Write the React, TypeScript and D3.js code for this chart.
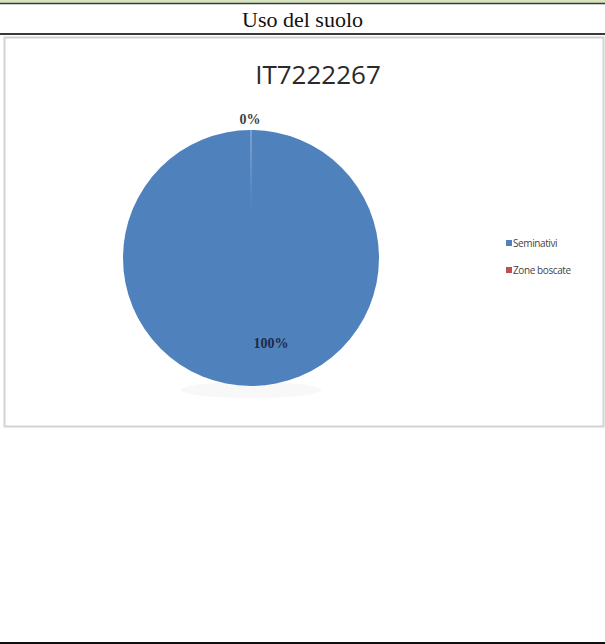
import { useEffect, useRef } from "react";
import * as d3 from "d3";

const categories = ["Seminativi", "Zone boscate"];
const values = [100, 0];
const colors = ["#4f81bd", "#c0504d"];
const labels = ["100%", "0%"];
const chartTitle = "IT7222267";
const sectionTitle = "Uso del suolo";

export default function App() {
    const svgRef = useRef<SVGSVGElement | null>(null);

    useEffect(() => {
        if (!svgRef.current) return;
        const width = 605;
        const svg = d3.select(svgRef.current);
        svg.selectAll("*").remove();

        // page frame
        svg.append("rect").attr("x", 0).attr("y", 0).attr("width", width).attr("height", 3).attr("fill", "#d8e4bf");
        svg.append("line").attr("x1", 0).attr("x2", width).attr("y1", 3.5).attr("y2", 3.5)
            .attr("stroke", "#3a3a3a").attr("stroke-width", 1.5);
        svg.append("text").attr("x", width / 2).attr("y", 27).attr("text-anchor", "middle")
            .attr("font-family", "'Liberation Serif', 'Times New Roman', serif").attr("font-size", 22)
            .attr("fill", "#111").text(sectionTitle);
        svg.append("line").attr("x1", 0).attr("x2", width).attr("y1", 34).attr("y2", 34)
            .attr("stroke", "#3a3a3a").attr("stroke-width", 2);
        svg.append("line").attr("x1", 0).attr("x2", width).attr("y1", 643).attr("y2", 643)
            .attr("stroke", "#111").attr("stroke-width", 2);

        // chart box
        svg.append("rect").attr("x", 4.5).attr("y", 37.5).attr("width", 599).attr("height", 389)
            .attr("fill", "#fff").attr("stroke", "#d2d2d2").attr("stroke-width", 2);

        svg.append("text").attr("x", 318).attr("y", 84).attr("text-anchor", "middle")
            .attr("font-family", "'Open Sans', 'DejaVu Sans', sans-serif").attr("font-size", 26)
            .attr("fill", "#2a2a2a").text(chartTitle);

        const cx = 251, cy = 258, r = 128;
        const pie = d3.pie<number>().sort(null).value(d => d);
        const arcs = pie(values);
        const arc = d3.arc<d3.PieArcDatum<number>>().innerRadius(0).outerRadius(r);
        const g = svg.append("g").attr("transform", `translate(${cx},${cy})`);

        g.append("ellipse").attr("cx", 0).attr("cy", r + 4).attr("rx", r * 0.55).attr("ry", 8)
            .attr("fill", "#f4f4f4").attr("opacity", 0.6);

        g.selectAll("path.slice").data(arcs).join("path")
            .attr("class", "slice")
            .attr("d", arc)
            .attr("fill", (_, i) => colors[i]);

        // slice boundary at top (0% slice), fading toward centre
        const zero = arcs[1];
        const grad = svg.append("defs").append("linearGradient").attr("id", "fade")
            .attr("x1", 0).attr("y1", 0).attr("x2", 0).attr("y2", 1);
        grad.append("stop").attr("offset", "0%").attr("stop-color", "#a9c0dc");
        grad.append("stop").attr("offset", "100%").attr("stop-color", "#4f81bd");
        g.append("rect")
            .attr("x", Math.sin(zero.startAngle) * r - 0.5)
            .attr("y", -Math.cos(zero.startAngle) * r)
            .attr("width", 1).attr("height", r * 0.62)
            .attr("fill", "url(#fade)");

        // data labels
        const labelPos = [
            [20, 90, "#1f2a44"],
            [-1, -134, "#404040"],
        ] as const;
        g.selectAll("text.lbl").data(arcs).join("text")
            .attr("class", "lbl")
            .attr("x", (_, i) => labelPos[i][0])
            .attr("y", (_, i) => labelPos[i][1])
            .attr("text-anchor", "middle")
            .attr("font-family", "'Liberation Serif', 'DejaVu Serif', serif")
            .attr("font-weight", "bold").attr("font-size", 14)
            .attr("fill", (_, i) => labelPos[i][2])
            .text((_, i) => labels[i]);

        // legend
        const legend = svg.append("g").attr("transform", "translate(506,240)");
        const items = legend.selectAll("g").data(categories).join("g")
            .attr("transform", (_, i) => `translate(0,${i * 27})`);
        items.append("rect").attr("x", 0).attr("y", 0).attr("width", 6).attr("height", 6)
            .attr("fill", (_, i) => colors[i]);
        items.append("text").attr("x", 7).attr("y", 6.5)
            .attr("font-family", "'Open Sans', 'DejaVu Sans', sans-serif").attr("font-size", 10)
            .attr("letter-spacing", -0.4)
            .attr("fill", "#444").text(d => d);
    }, []);

    return <svg ref={svgRef} width={605} height={644} style={{ position: "absolute", left: 0, top: 0 }} />;
}
